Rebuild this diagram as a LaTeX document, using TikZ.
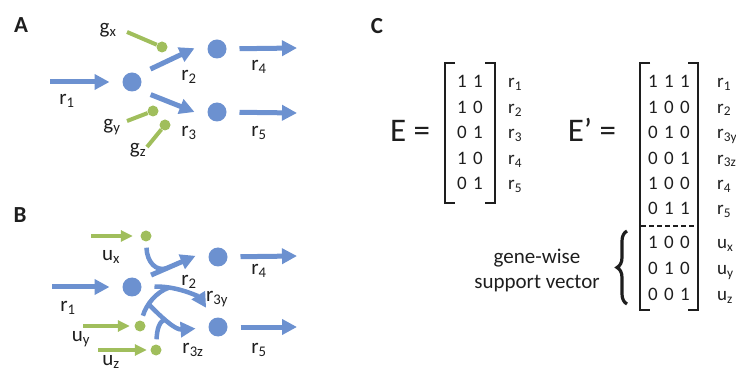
\documentclass[tikz,border=0pt]{standalone}
\usepackage{fontspec}
\setmainfont{Carlito}
\usetikzlibrary{arrows.meta, calc, decorations.pathreplacing}
\definecolor{metblue}{RGB}{108,145,208}
\definecolor{genegreen}{RGB}{160,190,92}
\definecolor{ink}{RGB}{30,30,30}
\begin{document}
\begin{tikzpicture}[x=1pt, y=-1pt,
  met/.style={circle, fill=metblue, minimum size=19pt, inner sep=0pt, outer sep=13pt},
  dot/.style={circle, fill=genegreen, minimum size=11pt, inner sep=0pt},
  flux/.style={draw=metblue, line width=5pt, -{Triangle[length=15pt,width=15pt]}},
  curvedflux/.style={draw=metblue, line width=4.5pt, -{Triangle[length=15pt,width=15pt]}},
  link/.style={draw=metblue, line width=4.5pt},
  inhib/.style={draw=genegreen, line width=4pt},
  supp/.style={draw=genegreen, line width=3.5pt, -{Triangle[length=12pt,width=11pt]}},
  lab/.style={text=ink, font=\fontsize{21}{25}\selectfont, inner sep=0pt},
  panel/.style={text=ink, font=\fontsize{23}{27}\selectfont\bfseries, inner sep=0pt},
  eq/.style={text=ink, font=\fontsize{33}{38}\selectfont, inner sep=0pt, anchor=base},
  digit/.style={text=ink, font=\fontsize{19}{22}\selectfont, inner sep=0pt, anchor=base},
  rowlab/.style={text=ink, font=\fontsize{19}{22}\selectfont, inner sep=0pt, anchor=base west},
  brk/.style={draw=ink, line width=2.6pt},
  curly/.style={draw=ink, line width=3.2pt, decorate, decoration={brace, amplitude=10pt}}
]
\clip (0,0) rectangle (736,371);

% panel A
\node[panel] (pa) at (21,25) {A};
\node[met] (a-m1) at (132,82) {};
\node[met] (a-m2) at (217,49) {};
\node[met] (a-m3) at (217,112) {};
\coordinate (a-in) at (50,82);
\coordinate (a-out4) at (297,48);
\coordinate (a-out5) at (297,113);
\draw[flux] (a-in) -- (a-m1);
\draw[flux] (a-m1.35) -- (a-m2.178);
\draw[flux] (a-m1.-34) -- (a-m3.180);
\draw[flux] (a-m2) -- (a-out4);
\draw[flux] (a-m3) -- (a-out5);
\node[dot] (a-gx) at (162,47) {};
\node[dot] (a-gy) at (153,111) {};
\node[dot] (a-gz) at (165,125) {};
\coordinate (a-gx-s) at (127,32);
\coordinate (a-gy-s) at (127,121);
\coordinate (a-gz-s) at (147,147);
\draw[inhib] (a-gx-s) -- (a-gx);
\draw[inhib] (a-gy-s) -- (a-gy);
\draw[inhib] (a-gz-s) -- (a-gz);
\node[lab] (a-lgx) at (108,30) {g\textsubscript{x}};
\node[lab] (a-lgy) at (112,127) {g\textsubscript{y}};
\node[lab] (a-lgz) at (138,150) {g\textsubscript{z}};
\node[lab] (a-lr1) at (67,101) {r\textsubscript{1}};
\node[lab] (a-lr2) at (189,77) {r\textsubscript{2}};
\node[lab] (a-lr3) at (189,133) {r\textsubscript{3}};
\node[lab] (a-lr4) at (259,67) {r\textsubscript{4}};
\node[lab] (a-lr5) at (259,133) {r\textsubscript{5}};

% panel B
\node[panel] (pb) at (20,215) {B};
\node[met] (b-m1) at (132,287) {};
\node[met] (b-m2) at (218,257) {};
\node[met] (b-m3) at (218,327) {};
\coordinate (b-in) at (52,287);
\coordinate (b-out4) at (297,256);
\coordinate (b-out5) at (297,327);
\draw[flux] (b-in) -- (b-m1);
\draw[flux] (b-m1.32) -- (b-m2.177) coordinate[pos=0.36] (b-j2);
\draw[flux] (b-m2) -- (b-out4);
\draw[flux] (b-m3) -- (b-out5);
\draw[curvedflux] (b-m1) .. controls (180,286) and (200,298) .. (b-m3) coordinate[pos=0.2] (b-j3y);
\draw[curvedflux] (b-m1) .. controls (160,316) and (175,330) .. (b-m3) coordinate[pos=0.45] (b-j3z);
\node[dot] (b-ux) at (146,236) {};
\node[dot] (b-uy) at (140,326) {};
\node[dot] (b-uz) at (156,350) {};
\coordinate (b-ux-s) at (91,236);
\coordinate (b-uy-s) at (83,326);
\coordinate (b-uz-s) at (98,350);
\draw[supp, shorten >=7.5pt] (b-ux-s) -- (b-ux);
\draw[supp, shorten >=4.5pt] (b-uy-s) -- (b-uy);
\draw[supp, shorten >=3.5pt] (b-uz-s) -- (b-uz);
\draw[link, shorten <=6pt] (b-ux) .. controls (147,262) and (156,272) .. (b-j2);
\draw[link, shorten <=5pt] (b-uy) .. controls (146,305) and (156,292) .. (b-j3y);
\draw[link, shorten <=5pt] (b-uz) .. controls (157,330) and (159,320) .. (b-j3z);
\node[lab] (b-lux) at (111,257) {u\textsubscript{x}};
\node[lab] (b-luy) at (81,339) {u\textsubscript{y}};
\node[lab] (b-luz) at (111,362) {u\textsubscript{z}};
\node[lab] (b-lr1) at (68,308) {r\textsubscript{1}};
\node[lab] (b-lr2) at (189,282) {r\textsubscript{2}};
\node[lab] (b-lr3y) at (217,299) {r\textsubscript{3y}};
\node[lab] (b-lr3z) at (193,350) {r\textsubscript{3z}};
\node[lab] (b-lr4) at (259,271) {r\textsubscript{4}};
\node[lab] (b-lr5) at (259,350) {r\textsubscript{5}};

% panel C
\node[panel] (pc) at (377,26) {C};
\node[eq] (e-lhs) at (410,142) {E =};
\node[eq] (ep-lhs) at (592,142) {E’ =};
\draw[brk] (455,63) -- (445,63) -- (445,203) -- (455,203);
\draw[brk] (485,63) -- (495,63) -- (495,203) -- (485,203);
\foreach \a/\b/\s [count=\i] in {1/1/1, 1/0/2, 0/1/3, 1/0/4, 0/1/5} {
  \node[digit] (e-\i-1) at (462,62.5+25.5*\i) {\a};
  \node[digit] (e-\i-2) at (478,62.5+25.5*\i) {\b};
  \node[rowlab] (e-r\i) at (508,62.5+25.5*\i) {r\textsubscript{\s}};
}
\draw[brk] (650,63) -- (640,63) -- (640,310) -- (650,310);
\draw[brk] (688,63) -- (698,63) -- (698,310) -- (688,310);
\draw[draw=ink, line width=2pt, dash pattern=on 5pt off 3pt] (641,226) -- (697,226);
\foreach \a/\b/\c/\s [count=\i] in {1/1/1/1, 1/0/0/2, 0/1/0/3y, 0/0/1/3z, 1/0/0/4, 0/1/1/5} {
  \node[digit] (ep-\i-1) at (653,62.5+25.4*\i) {\a};
  \node[digit] (ep-\i-2) at (669,62.5+25.4*\i) {\b};
  \node[digit] (ep-\i-3) at (685,62.5+25.4*\i) {\c};
  \node[rowlab] (ep-r\i) at (717,62.5+25.4*\i) {r\textsubscript{\s}};
}
\foreach \a/\b/\c/\s [count=\i] in {1/0/0/x, 0/1/0/y, 0/0/1/z} {
  \node[digit] (ep-u\i-1) at (653,223+26*\i) {\a};
  \node[digit] (ep-u\i-2) at (669,223+26*\i) {\b};
  \node[digit] (ep-u\i-3) at (685,223+26*\i) {\c};
  \node[rowlab] (ep-u\i) at (717,223+26*\i) {u\textsubscript{\s}};
}
\draw[curly] (627,304) -- (627,231);
\node[lab, align=center] (gsv) at (537,270) {gene-wise\\support vector};
\end{tikzpicture}
\end{document}
